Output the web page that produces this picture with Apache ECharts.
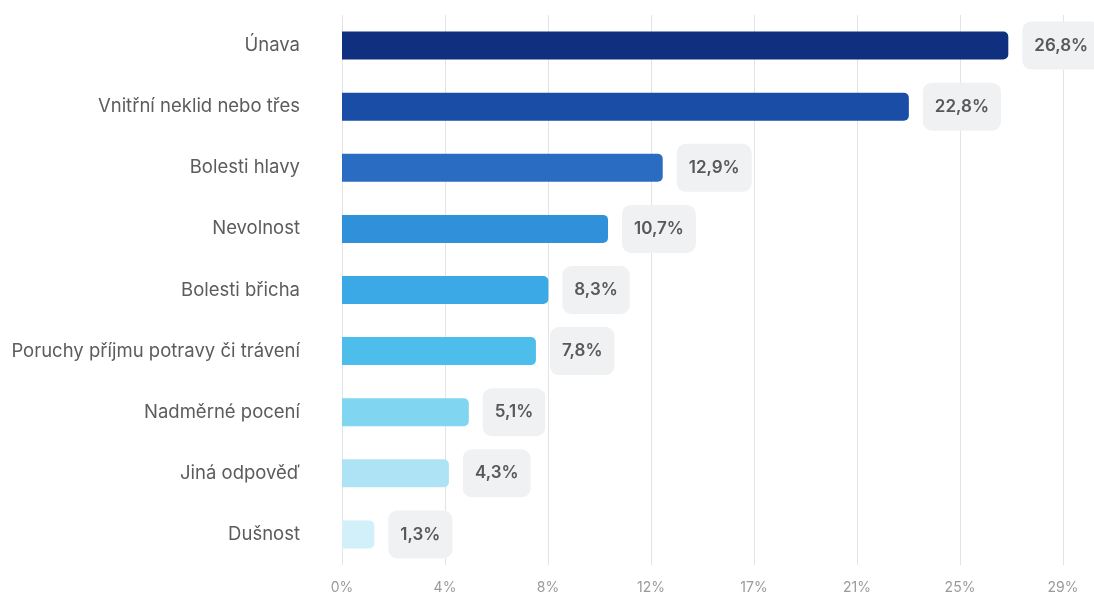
<!DOCTYPE html>
<html>
<head>
<meta charset="utf-8">
<script src="https://cdn.jsdelivr.net/npm/echarts@6/dist/echarts.min.js"></script>
<style>
  html, body { margin: 0; padding: 0; background: #ffffff; }
  #chart { width: 1094px; height: 597px; }
</style>
</head>
<body>
<div id="chart"></div>
<script>
// Symptom categories, top to bottom
const categories = [
  'Únava',
  'Vnitřní neklid nebo třes',
  'Bolesti hlavy',
  'Nevolnost',
  'Bolesti břicha',
  'Poruchy příjmu potravy či trávení',
  'Nadměrné pocení',
  'Jiná odpověď',
  'Dušnost'
];
// Share of respondents, in percent
const values = [26.8, 22.8, 12.9, 10.7, 8.3, 7.8, 5.1, 4.3, 1.3];
// One shade per bar, dark navy to pale cyan
const barColors = ['#10307f', '#1a4ea6', '#2a6cc2', '#3190da', '#3aa9e6', '#4dbdec', '#80d5f1', '#aee3f5', '#d1f0fa'];
// Value axis tick labels (seven equal steps up to 29 %)
const tickLabels = ['0%', '4%', '8%', '12%', '17%', '21%', '25%', '29%'];
const axisMax = 29;

const chart = echarts.init(document.getElementById('chart'));
chart.setOption({
  backgroundColor: '#ffffff',
  animation: false,
  textStyle: { fontFamily: 'Inter, "Noto Sans", sans-serif' },
  grid: { left: 342, right: 31, top: 15, bottom: 32, containLabel: false },
  xAxis: {
    type: 'value',
    min: 0,
    max: axisMax,
    interval: axisMax / (tickLabels.length - 1),
    axisLine: { show: false },
    axisTick: { show: false },
    splitLine: { show: true, lineStyle: { color: '#e4e4e6', width: 1 } },
    axisLabel: {
      color: '#9a9a9a',
      fontSize: 14,
      margin: 16,
      formatter: (v, i) => tickLabels[i] !== undefined ? tickLabels[i] : ''
    }
  },
  yAxis: {
    type: 'category',
    inverse: true,
    data: categories,
    axisLine: { show: false },
    axisTick: { show: false },
    axisLabel: { color: '#5c5c5c', fontSize: 18.5, margin: 42 }
  },
  series: [{
    type: 'bar',
    barWidth: 28,
    data: values.map((v, i) => ({
      value: v,
      itemStyle: { color: barColors[i], borderRadius: [0, 5, 5, 0] }
    })),
    label: {
      show: true,
      position: 'right',
      distance: 14,
      formatter: p => p.value.toFixed(1).replace('.', ',') + '%',
      color: '#585858',
      fontSize: 17,
      fontWeight: 600,
      lineHeight: 20,
      backgroundColor: '#f0f1f2',
      borderRadius: 9,
      padding: [14, 12, 14, 12]
    }
  }]
});
</script>
</body>
</html>
